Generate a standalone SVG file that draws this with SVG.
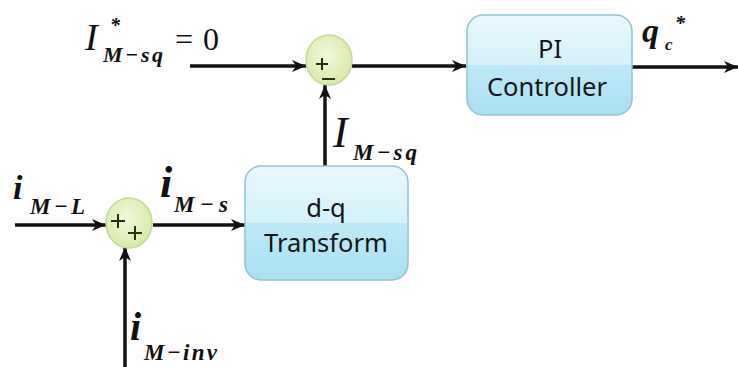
<svg xmlns="http://www.w3.org/2000/svg" width="738" height="367" viewBox="0 0 738 367">
<style>
.ln{stroke:#111;stroke-width:3.5;fill:none}
.box{stroke:#8fc3d6;stroke-width:1.5;fill:url(#bx)}
.sum{stroke:#c3d88f;stroke-width:1.5;fill:url(#sg)}
.sg{stroke:#23320f;stroke-width:2;fill:none}
.bt{font-family:"Noto Sans","Liberation Sans",sans-serif;font-size:25.5px;fill:#151515;text-anchor:middle}
.mi{font-family:"Liberation Serif","Times New Roman",serif;font-style:italic;font-weight:bold;fill:#111}
.mr{font-family:"Liberation Serif","Times New Roman",serif;fill:#111}
</style>
<defs>
<linearGradient id="bx" x1="0" y1="0" x2="0" y2="1">
<stop offset="0" stop-color="#e9f8fd"/>
<stop offset="0.5" stop-color="#d3f1fa"/>
<stop offset="0.5" stop-color="#bde9f7"/>
<stop offset="1" stop-color="#a9e0f3"/>
</linearGradient>
<radialGradient id="sg" cx="0.45" cy="0.4" r="0.6">
<stop offset="0" stop-color="#f3f9dc"/>
<stop offset="1" stop-color="#d6eaa6"/>
</radialGradient>
<marker id="ah" markerUnits="userSpaceOnUse" markerWidth="16" markerHeight="14" refX="14" refY="7" orient="auto">
<path d="M0,1 L14,7 L0,13 L4,7 Z" fill="#111"/>
</marker>
</defs>

<g id="connectors">
<line class="ln" x1="190" y1="66" x2="306" y2="66" marker-end="url(#ah)"/>
<line class="ln" x1="352" y1="66" x2="466" y2="66" marker-end="url(#ah)"/>
<line class="ln" x1="632" y1="67" x2="738" y2="67" marker-end="url(#ah)"/>
<line class="ln" x1="325" y1="166" x2="325" y2="85" marker-end="url(#ah)"/>
<line class="ln" x1="15" y1="225" x2="106" y2="225" marker-end="url(#ah)"/>
<line class="ln" x1="153" y1="225" x2="245" y2="225" marker-end="url(#ah)"/>
<line class="ln" x1="125" y1="367" x2="125" y2="247" marker-end="url(#ah)"/>
</g>

<g id="sum-top">
<ellipse class="sum" cx="329" cy="60" rx="23" ry="25"/>
<path class="sg" d="M316,64 H328 M322,58 V70"/>
<path class="sg" d="M322,79 H335"/>
</g>

<g id="sum-bottom">
<ellipse class="sum" cx="129" cy="223" rx="23" ry="25"/>
<path class="sg" d="M111,221 H125 M118,214 V228"/>
<path class="sg" d="M128,233 H142 M135,226 V240"/>
</g>

<g id="pi-controller">
<rect class="box" x="467" y="15" width="165" height="100" rx="16"/>
<text class="bt" x="550" y="58">PI</text>
<text class="bt" x="547" y="96">Controller</text>
</g>

<g id="dq-transform">
<rect class="box" x="245" y="166" width="163" height="114" rx="16"/>
<text class="bt" x="326" y="217">d-q</text>
<text class="bt" x="326" y="252">Transform</text>
</g>

<g id="labels">
<text class="mi" style="font-weight:normal" x="85" y="50" font-size="38">I</text>
<text class="mi" x="110" y="32" font-size="20">*</text>
<text class="mi" x="103" y="62" font-size="22" textLength="60" lengthAdjust="spacing">M−sq</text>
<text class="mr" x="175" y="50" font-size="32" textLength="44" lengthAdjust="spacing">=0</text>

<text class="mi" style="font-weight:normal" x="333" y="147" font-size="44">I</text>
<text class="mi" x="353" y="160" font-size="23" textLength="64" lengthAdjust="spacing">M−sq</text>

<text class="mi" x="13" y="199" font-size="34">i</text>
<text class="mi" x="30" y="214" font-size="23" textLength="55" lengthAdjust="spacing">M−L</text>

<text class="mi" x="160" y="197" font-size="44">i</text>
<text class="mi" x="174" y="212" font-size="23" textLength="54" lengthAdjust="spacing">M−s</text>

<text class="mi" x="130" y="340" font-size="40">i</text>
<text class="mi" x="144" y="360" font-size="23" textLength="73" lengthAdjust="spacing">M−inv</text>

<text class="mi" x="642" y="42" font-size="34">q</text>
<text class="mi" x="665" y="50" font-size="17">c</text>
<text class="mi" x="675" y="30" font-size="20">*</text>
</g>
</svg>
